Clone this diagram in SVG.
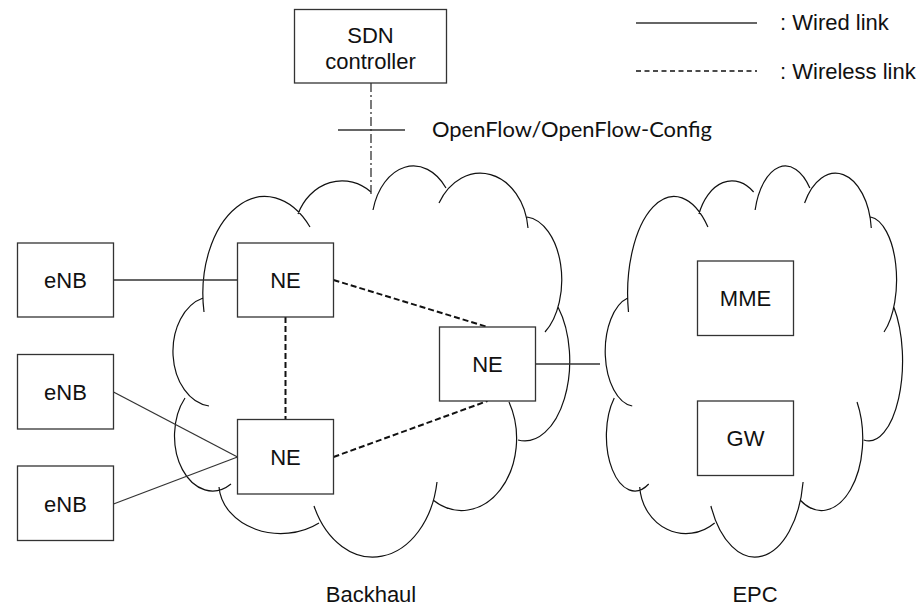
<svg xmlns="http://www.w3.org/2000/svg" width="923" height="609" viewBox="0 0 923 609">
<style>
.box{fill:#fff;stroke:#333;stroke-width:1.3}
.lbl{font-family:"Liberation Sans",Arial,sans-serif;font-size:22px;fill:#111;text-anchor:middle}
.cloud{fill:none;stroke:#111;stroke-width:1.2}
.wired{stroke:#333;stroke-width:1.3;fill:none}
.wless{stroke:#111;stroke-width:2;stroke-dasharray:6,3;fill:none}
.ctrl{stroke:#333;stroke-width:1.3;stroke-dasharray:9,3,2,3;fill:none}
</style>
<defs>
<path id="cloudShape" class="cloud" vector-effect="non-scaling-stroke" d="M209,406 A40,55 0 0 1 203,298 M204,312 A62,97 0 0 1 310,227 M298,214 A48,55 0 0 1 371,192 M373,210 A42,60 0 0 1 446,188 M439,203 A48,61 0 0 1 528,228 M527,217 A38,63 0 0 1 545,332 M558,307 A45,80 0 0 1 518,440 M509,402 A55,72 0 0 1 433,500 M437,482 A65,89 0 0 1 314,506 M319,523 A62,50 0 0 1 219,487 M231,484 A38,55 0 0 1 185,398"/>
</defs>
<g id="backhaul-cloud">
<use href="#cloudShape"/>
<text class="lbl" x="371" y="602">Backhaul</text>
</g>
<g id="epc-cloud">
<use href="#cloudShape" transform="matrix(0.7494,0,0,1,475.6,0)"/>
<text class="lbl" x="755" y="602">EPC</text>
</g>
<g id="legend">
<line class="wired" x1="636" y1="23" x2="757" y2="23"/>
<text x="780" y="30" style="font-family:'Liberation Sans',Arial,sans-serif;font-size:22px;fill:#111">: Wired link</text>
<line x1="636" y1="71" x2="757" y2="71" style="stroke:#111;stroke-width:1.3;stroke-dasharray:5,3.5"/>
<text x="780" y="79" style="font-family:'Liberation Sans',Arial,sans-serif;font-size:22px;fill:#111">: Wireless link</text>
</g>
<g id="connectors">
<line class="wired" x1="113.5" y1="280" x2="237.5" y2="280"/>
<line class="wired" x1="113.5" y1="392" x2="237.5" y2="457"/>
<line class="wired" x1="113.5" y1="504" x2="237.5" y2="457"/>
<line class="wired" x1="535.5" y1="364" x2="600" y2="364"/>
<line class="wless" x1="285.5" y1="317" x2="285.5" y2="419.5"/>
<line class="wless" x1="333.5" y1="280" x2="487.5" y2="327"/>
<line class="wless" x1="333.5" y1="457" x2="487.5" y2="401"/>
<line class="ctrl" x1="371" y1="83" x2="371" y2="194"/>
<line class="wired" x1="338" y1="130" x2="405" y2="130"/>
<text x="432" y="137" textLength="280" lengthAdjust="spacingAndGlyphs" style="font-family:Lato,'Open Sans',sans-serif;font-size:21px;fill:#111">OpenFlow/OpenFlow-Config</text>
</g>
<g id="sdn">
<rect class="box" x="294.5" y="9.5" width="152" height="73.5"/>
<text class="lbl" x="370.5" y="43">SDN</text>
<text class="lbl" x="370.5" y="69">controller</text>
</g>
<g id="enb1"><rect class="box" x="17.5" y="243" width="96" height="74"/><text class="lbl" x="65.5" y="288">eNB</text></g>
<g id="enb2"><rect class="box" x="17.5" y="354.5" width="96" height="74.5"/><text class="lbl" x="65.5" y="400">eNB</text></g>
<g id="enb3"><rect class="box" x="17.5" y="466" width="96" height="74.5"/><text class="lbl" x="65.5" y="511.5">eNB</text></g>
<g id="ne1"><rect class="box" x="237.5" y="243" width="96" height="74"/><text class="lbl" x="285.5" y="288">NE</text></g>
<g id="ne2"><rect class="box" x="237.5" y="419.5" width="96" height="74.5"/><text class="lbl" x="285.5" y="464.5">NE</text></g>
<g id="ne3"><rect class="box" x="439.5" y="327" width="96" height="74"/><text class="lbl" x="487.5" y="372">NE</text></g>
<g id="mme"><rect class="box" x="697.5" y="261" width="96" height="74.5"/><text class="lbl" x="745.5" y="306">MME</text></g>
<g id="gw"><rect class="box" x="697.5" y="401" width="96" height="74.5"/><text class="lbl" x="745.5" y="446">GW</text></g>
</svg>
